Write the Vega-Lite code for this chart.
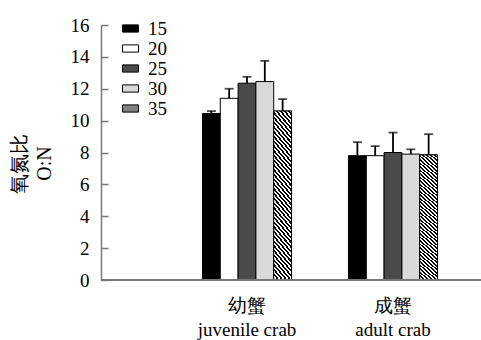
{
  "$schema": "https://vega.github.io/schema/vega-lite/v6.json",
  "width": 380,
  "height": 255,
  "autosize": {"type": "none"},
  "padding": {"left": 101, "top": 25, "right": 0, "bottom": 60},
  "background": "white",
  "config": {
    "view": {"stroke": null},
    "font": "Liberation Serif"
  },
  "data": {
    "values": [
      {"group": "幼蟹", "temp": "15", "mean": 10.45, "upper": 10.6},
      {"group": "幼蟹", "temp": "20", "mean": 11.4, "upper": 12.0},
      {"group": "幼蟹", "temp": "25", "mean": 12.35, "upper": 12.75},
      {"group": "幼蟹", "temp": "30", "mean": 12.45, "upper": 13.75},
      {"group": "幼蟹", "temp": "35", "mean": 10.6, "upper": 11.35},
      {"group": "成蟹", "temp": "15", "mean": 7.8, "upper": 8.65},
      {"group": "成蟹", "temp": "20", "mean": 7.8, "upper": 8.4},
      {"group": "成蟹", "temp": "25", "mean": 8.0, "upper": 9.25},
      {"group": "成蟹", "temp": "30", "mean": 7.9, "upper": 8.2},
      {"group": "成蟹", "temp": "35", "mean": 7.85, "upper": 9.15}
    ]
  },
  "encoding": {
    "x": {
      "field": "group", "type": "nominal",
      "scale": {"domain": ["幼蟹", "成蟹"], "range": [73, 365], "paddingInner": 0.39, "paddingOuter": 0.195},
      "axis": {
        "title": null, "domain": false, "ticks": false, "labelAngle": 0,
        "labelFont": "Liberation Serif", "labelColor": "black",
        "labelFontSize": 19, "labelLineHeight": 24, "labelPadding": 16,
        "labelExpr": "datum.value == '幼蟹' ? ['幼蟹', 'juvenile crab'] : ['成蟹', 'adult crab']",
        "encode": {"labels": {"update": {"font": {"value": "Liberation Serif"}, "fontSize": {"value": 19}, "fill": {"value": "black"}}}}
      }
    },
    "xOffset": {"field": "temp", "type": "nominal", "scale": {"domain": ["15", "20", "25", "30", "35"], "paddingInner": 0, "paddingOuter": 0}},
    "y": {
      "field": "mean", "type": "quantitative",
      "scale": {"domain": [0, 16], "nice": false},
      "axis": {
        "values": [0, 2, 4, 6, 8, 10, 12, 14, 16], "labelOverlap": false,
        "grid": false, "domainColor": "#777777", "domainWidth": 1.5,
        "tickColor": "#777777", "tickWidth": 1.5, "tickSize": -7,
        "labelFont": "Liberation Serif", "labelColor": "black",
        "labelFontSize": 19, "labelPadding": 19,
        "encode": {"labels": {"update": {"font": {"value": "Liberation Serif"}, "fontSize": {"value": 19}, "fill": {"value": "black"}}}},
        "title": ["氧氮比", "O:N"], "titleFont": "Liberation Serif", "titleColor": "black",
        "titleFontSize": 20, "titleFontWeight": "normal",
        "titleLineHeight": 25, "titleX": -82, "titleY": 138, "titleBaseline": "middle", "titleAngle": -90
      }
    }
  },
  "layer": [
    {
      "mark": {"type": "bar", "stroke": "black", "strokeWidth": 1, "opacity": 1},
      "encoding": {
        "fill": {
          "field": "temp", "type": "nominal",
          "scale": {"domain": ["15", "20", "25", "30", "35"], "range": ["#000000", "#ffffff", "#4a4a4a", "#d9d9d9", "#808080"]},
          "legend": {
            "title": null, "orient": "none", "legendX": 20, "legendY": -6,
            "symbolType": "M-1,-0.45H1V0.45H-1Z", "symbolSize": 256,
            "symbolStrokeColor": "black", "symbolStrokeWidth": 1, "symbolOpacity": 1,
            "labelFont": "Liberation Serif", "labelColor": "black",
            "labelFontSize": 19, "labelOffset": 8, "rowPadding": -1.6, "padding": 0,
            "encode": {"labels": {"update": {"font": {"value": "Liberation Serif"}, "fontSize": {"value": 19}, "fill": {"value": "black"}}}}
          }
        }
      }
    },
    {
      "transform": [{"filter": "datum.temp == '35'"}],
      "mark": {"type": "bar", "stroke": "black", "strokeWidth": 1, "opacity": 1,
        "fill": {"gradient": "linear", "x1": 0, "y1": 1, "x2": 0.1385, "y2": -0.108, "stops": [
              {"offset": 0, "color": "#000"}, {"offset": 0.0125, "color": "#000"}, {"offset": 0.0125, "color": "#fff"}, {"offset": 0.025, "color": "#fff"},
              {"offset": 0.025, "color": "#000"}, {"offset": 0.0375, "color": "#000"}, {"offset": 0.0375, "color": "#fff"}, {"offset": 0.05, "color": "#fff"},
              {"offset": 0.05, "color": "#000"}, {"offset": 0.0625, "color": "#000"}, {"offset": 0.0625, "color": "#fff"}, {"offset": 0.075, "color": "#fff"},
              {"offset": 0.075, "color": "#000"}, {"offset": 0.0875, "color": "#000"}, {"offset": 0.0875, "color": "#fff"}, {"offset": 0.1, "color": "#fff"},
              {"offset": 0.1, "color": "#000"}, {"offset": 0.1125, "color": "#000"}, {"offset": 0.1125, "color": "#fff"}, {"offset": 0.125, "color": "#fff"},
              {"offset": 0.125, "color": "#000"}, {"offset": 0.1375, "color": "#000"}, {"offset": 0.1375, "color": "#fff"}, {"offset": 0.15, "color": "#fff"},
              {"offset": 0.15, "color": "#000"}, {"offset": 0.1625, "color": "#000"}, {"offset": 0.1625, "color": "#fff"}, {"offset": 0.175, "color": "#fff"},
              {"offset": 0.175, "color": "#000"}, {"offset": 0.1875, "color": "#000"}, {"offset": 0.1875, "color": "#fff"}, {"offset": 0.2, "color": "#fff"},
              {"offset": 0.2, "color": "#000"}, {"offset": 0.2125, "color": "#000"}, {"offset": 0.2125, "color": "#fff"}, {"offset": 0.225, "color": "#fff"},
              {"offset": 0.225, "color": "#000"}, {"offset": 0.2375, "color": "#000"}, {"offset": 0.2375, "color": "#fff"}, {"offset": 0.25, "color": "#fff"},
              {"offset": 0.25, "color": "#000"}, {"offset": 0.2625, "color": "#000"}, {"offset": 0.2625, "color": "#fff"}, {"offset": 0.275, "color": "#fff"},
              {"offset": 0.275, "color": "#000"}, {"offset": 0.2875, "color": "#000"}, {"offset": 0.2875, "color": "#fff"}, {"offset": 0.3, "color": "#fff"},
              {"offset": 0.3, "color": "#000"}, {"offset": 0.3125, "color": "#000"}, {"offset": 0.3125, "color": "#fff"}, {"offset": 0.325, "color": "#fff"},
              {"offset": 0.325, "color": "#000"}, {"offset": 0.3375, "color": "#000"}, {"offset": 0.3375, "color": "#fff"}, {"offset": 0.35, "color": "#fff"},
              {"offset": 0.35, "color": "#000"}, {"offset": 0.3625, "color": "#000"}, {"offset": 0.3625, "color": "#fff"}, {"offset": 0.375, "color": "#fff"},
              {"offset": 0.375, "color": "#000"}, {"offset": 0.3875, "color": "#000"}, {"offset": 0.3875, "color": "#fff"}, {"offset": 0.4, "color": "#fff"},
              {"offset": 0.4, "color": "#000"}, {"offset": 0.4125, "color": "#000"}, {"offset": 0.4125, "color": "#fff"}, {"offset": 0.425, "color": "#fff"},
              {"offset": 0.425, "color": "#000"}, {"offset": 0.4375, "color": "#000"}, {"offset": 0.4375, "color": "#fff"}, {"offset": 0.45, "color": "#fff"},
              {"offset": 0.45, "color": "#000"}, {"offset": 0.4625, "color": "#000"}, {"offset": 0.4625, "color": "#fff"}, {"offset": 0.475, "color": "#fff"},
              {"offset": 0.475, "color": "#000"}, {"offset": 0.4875, "color": "#000"}, {"offset": 0.4875, "color": "#fff"}, {"offset": 0.5, "color": "#fff"},
              {"offset": 0.5, "color": "#000"}, {"offset": 0.5125, "color": "#000"}, {"offset": 0.5125, "color": "#fff"}, {"offset": 0.525, "color": "#fff"},
              {"offset": 0.525, "color": "#000"}, {"offset": 0.5375, "color": "#000"}, {"offset": 0.5375, "color": "#fff"}, {"offset": 0.55, "color": "#fff"},
              {"offset": 0.55, "color": "#000"}, {"offset": 0.5625, "color": "#000"}, {"offset": 0.5625, "color": "#fff"}, {"offset": 0.575, "color": "#fff"},
              {"offset": 0.575, "color": "#000"}, {"offset": 0.5875, "color": "#000"}, {"offset": 0.5875, "color": "#fff"}, {"offset": 0.6, "color": "#fff"},
              {"offset": 0.6, "color": "#000"}, {"offset": 0.6125, "color": "#000"}, {"offset": 0.6125, "color": "#fff"}, {"offset": 0.625, "color": "#fff"},
              {"offset": 0.625, "color": "#000"}, {"offset": 0.6375, "color": "#000"}, {"offset": 0.6375, "color": "#fff"}, {"offset": 0.65, "color": "#fff"},
              {"offset": 0.65, "color": "#000"}, {"offset": 0.6625, "color": "#000"}, {"offset": 0.6625, "color": "#fff"}, {"offset": 0.675, "color": "#fff"},
              {"offset": 0.675, "color": "#000"}, {"offset": 0.6875, "color": "#000"}, {"offset": 0.6875, "color": "#fff"}, {"offset": 0.7, "color": "#fff"},
              {"offset": 0.7, "color": "#000"}, {"offset": 0.7125, "color": "#000"}, {"offset": 0.7125, "color": "#fff"}, {"offset": 0.725, "color": "#fff"},
              {"offset": 0.725, "color": "#000"}, {"offset": 0.7375, "color": "#000"}, {"offset": 0.7375, "color": "#fff"}, {"offset": 0.75, "color": "#fff"},
              {"offset": 0.75, "color": "#000"}, {"offset": 0.7625, "color": "#000"}, {"offset": 0.7625, "color": "#fff"}, {"offset": 0.775, "color": "#fff"},
              {"offset": 0.775, "color": "#000"}, {"offset": 0.7875, "color": "#000"}, {"offset": 0.7875, "color": "#fff"}, {"offset": 0.8, "color": "#fff"},
              {"offset": 0.8, "color": "#000"}, {"offset": 0.8125, "color": "#000"}, {"offset": 0.8125, "color": "#fff"}, {"offset": 0.825, "color": "#fff"},
              {"offset": 0.825, "color": "#000"}, {"offset": 0.8375, "color": "#000"}, {"offset": 0.8375, "color": "#fff"}, {"offset": 0.85, "color": "#fff"},
              {"offset": 0.85, "color": "#000"}, {"offset": 0.8625, "color": "#000"}, {"offset": 0.8625, "color": "#fff"}, {"offset": 0.875, "color": "#fff"},
              {"offset": 0.875, "color": "#000"}, {"offset": 0.8875, "color": "#000"}, {"offset": 0.8875, "color": "#fff"}, {"offset": 0.9, "color": "#fff"},
              {"offset": 0.9, "color": "#000"}, {"offset": 0.9125, "color": "#000"}, {"offset": 0.9125, "color": "#fff"}, {"offset": 0.925, "color": "#fff"},
              {"offset": 0.925, "color": "#000"}, {"offset": 0.9375, "color": "#000"}, {"offset": 0.9375, "color": "#fff"}, {"offset": 0.95, "color": "#fff"},
              {"offset": 0.95, "color": "#000"}, {"offset": 0.9625, "color": "#000"}, {"offset": 0.9625, "color": "#fff"}, {"offset": 0.975, "color": "#fff"},
              {"offset": 0.975, "color": "#000"}, {"offset": 0.9875, "color": "#000"}, {"offset": 0.9875, "color": "#fff"}, {"offset": 1, "color": "#fff"}
            ]}}
    },
    {
      "mark": {"type": "rule", "color": "black", "strokeWidth": 1.8},
      "encoding": {
        "y2": {"field": "upper"}
      }
    },
    {
      "mark": {"type": "tick", "color": "black", "thickness": 1.8, "size": 9, "orient": "horizontal"},
      "encoding": {
        "y": {"field": "upper", "type": "quantitative"}
      }
    },
    {
      "mark": {"type": "rule", "color": "#777777", "strokeWidth": 2},
      "encoding": {"y": {"datum": 0, "type": "quantitative"}, "x": null, "xOffset": null}
    }
  ]
}
